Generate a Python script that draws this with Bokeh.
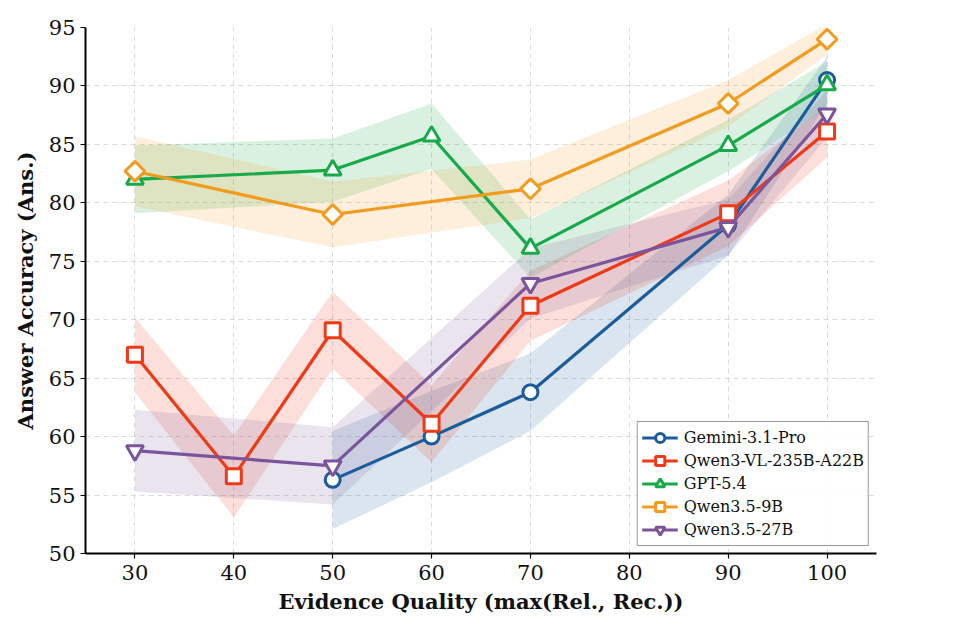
import numpy as np
from bokeh.plotting import figure
from bokeh.models import Legend, FixedTicker
from bokeh.embed import file_html
from bokeh.resources import INLINE

# ---- data ----
gem_x = [50, 60, 70, 90, 100]
gem_y = [56.3, 60.0, 63.8, 78.1, 90.5]
gem_e = [4.2, 3.9, 3.3, 2.6, 2.0]

qvl_x = [30, 40, 50, 60, 70, 90, 100]
qvl_y = [67.0, 56.6, 69.1, 61.1, 71.2, 79.1, 86.1]
qvl_e = [3.2, 3.5, 3.3, 3.3, 3.0, 2.8, 2.2]

gpt_x = [30, 50, 60, 70, 90, 100]
gpt_y = [82.0, 82.8, 85.7, 76.1, 84.9, 90.1]
gpt_e = [2.9, 2.7, 2.8, 2.5, 2.2, 2.0]

q9_x = [30, 50, 70, 90, 100]
q9_y = [82.7, 79.0, 81.2, 88.5, 94.0]
q9_e = [3.0, 2.8, 2.5, 2.0, 1.3]

q27_x = [30, 50, 70, 90, 100]
q27_y = [58.8, 57.5, 73.1, 77.9, 87.6]
q27_e = [3.5, 3.3, 3.0, 2.4, 2.0]

names = ["Gemini-3.1-Pro", "Qwen3-VL-235B-A22B", "GPT-5.4", "Qwen3.5-9B", "Qwen3.5-27B"]
colors = ["#1a5c9c", "#ee3a17", "#17aa4a", "#f39b1c", "#7b559c"]
markers = ["circle", "square", "triangle", "square", "inverted_triangle"]
angles = [0, 0, 0, np.pi / 4, 0]
msizes = [15, 15, 17, 14, 17]
series = [(gem_x, gem_y, gem_e), (qvl_x, qvl_y, qvl_e), (gpt_x, gpt_y, gpt_e),
          (q9_x, q9_y, q9_e), (q27_x, q27_y, q27_e)]

x_ticks = [30, 40, 50, 60, 70, 80, 90, 100]
y_ticks = [50, 55, 60, 65, 70, 75, 80, 85, 90, 95]

FONT = "DejaVu Serif"

p = figure(width=958, height=636, x_range=(25, 105), y_range=(50, 95),
           output_backend="svg", toolbar_location=None,
           min_border_left=85, min_border_right=82, min_border_top=27, min_border_bottom=83)
p.outline_line_color = None
p.background_fill_color = "white"
p.border_fill_color = "white"

for ax in (p.xaxis, p.yaxis):
    ax.axis_line_width = 2
    ax.axis_line_color = "black"
    ax.major_tick_line_width = 1.2
    ax.major_tick_out = 5
    ax.major_tick_in = 0
    ax.minor_tick_line_color = None
    ax.major_label_text_font = FONT
    ax.major_label_text_font_size = "21px"
    ax.major_label_text_color = "#111111"
    ax.axis_label_text_font = FONT
    ax.axis_label_text_font_style = "bold"
    ax.axis_label_text_font_size = "21px"
    ax.axis_label_text_color = "#111111"

p.xaxis.ticker = FixedTicker(ticks=x_ticks)
p.yaxis.ticker = FixedTicker(ticks=y_ticks)
p.xaxis.axis_label = "Evidence Quality (max(Rel., Rec.))"
p.yaxis.axis_label = "Answer Accuracy (Ans.)"
p.xaxis.axis_label_standoff = 6
p.yaxis.axis_label_standoff = 8
p.xaxis.major_label_standoff = 6
p.yaxis.major_label_standoff = 5

for g in (p.xgrid, p.ygrid):
    g.grid_line_color = "#bbbbbb"
    g.grid_line_dash = "5 4"
    g.grid_line_alpha = 0.55
    g.grid_line_width = 1

# bands
for (xs, ys, es), c in zip(series, colors):
    ys_a = np.array(ys)
    es_a = np.array(es)
    p.varea(x=xs, y1=ys_a - es_a, y2=ys_a + es_a, fill_color=c, fill_alpha=0.16)

items = []
for (xs, ys, es), c, m, a, s, n in zip(series, colors, markers, angles, msizes, names):
    r1 = p.line(xs, ys, line_color=c, line_width=3.2)
    r2 = p.scatter(xs, ys, marker=m, angle=a, size=s, fill_color="white",
                   line_color=c, line_width=3)
    items.append((n, [r1, r2]))

legend = Legend(items=items, location="bottom_right")
legend.label_text_font = FONT
legend.label_text_font_size = "16px"
legend.label_text_color = "#111111"
legend.border_line_color = "#999999"
legend.border_line_width = 1
legend.border_line_alpha = 1
legend.background_fill_alpha = 0.9
legend.margin = 7
legend.padding = 4
legend.spacing = 0
legend.glyph_width = 36
legend.glyph_height = 23
legend.label_standoff = 6
legend.label_height = 23
p.add_layout(legend, "center")

open("out.html", "w").write(file_html(p, INLINE))
